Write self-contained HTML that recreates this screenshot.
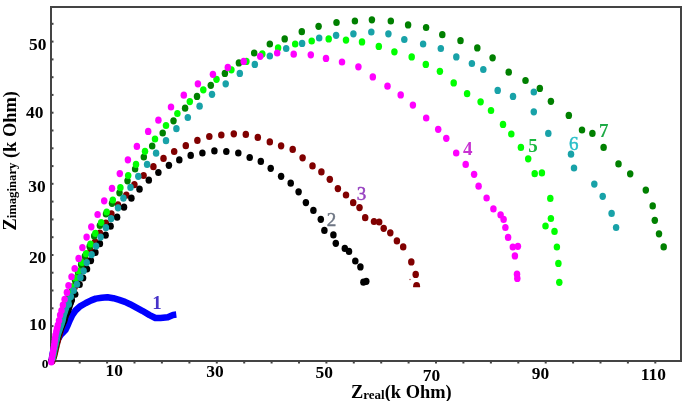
<!DOCTYPE html>
<html><head><meta charset="utf-8"><style>
html,body{margin:0;padding:0;background:#fff;width:685px;height:401px;overflow:hidden}
svg{display:block;filter:blur(0.4px)}
</style></head><body>
<svg width="685" height="401" viewBox="0 0 685 401">
<rect width="685" height="401" fill="#fff"/>
<rect x="50" y="6" width="630" height="354" fill="none" stroke="#444" stroke-width="2" transform="translate(1,1)"/>
<rect x="78.7" y="360" width="2" height="3.5" fill="#444"/><rect x="106.1" y="360" width="2" height="3.5" fill="#444"/><rect x="133.5" y="360" width="2" height="3.5" fill="#444"/><rect x="160.9" y="360" width="2" height="3.5" fill="#444"/><rect x="188.4" y="360" width="2" height="3.5" fill="#444"/><rect x="215.8" y="360" width="2" height="3.5" fill="#444"/><rect x="243.2" y="360" width="2" height="3.5" fill="#444"/><rect x="270.6" y="360" width="2" height="3.5" fill="#444"/><rect x="298.0" y="360" width="2" height="3.5" fill="#444"/><rect x="325.4" y="360" width="2" height="3.5" fill="#444"/><rect x="352.8" y="360" width="2" height="3.5" fill="#444"/><rect x="380.2" y="360" width="2" height="3.5" fill="#444"/><rect x="407.6" y="360" width="2" height="3.5" fill="#444"/><rect x="435.0" y="360" width="2" height="3.5" fill="#444"/><rect x="462.4" y="360" width="2" height="3.5" fill="#444"/><rect x="489.9" y="360" width="2" height="3.5" fill="#444"/><rect x="517.3" y="360" width="2" height="3.5" fill="#444"/><rect x="544.7" y="360" width="2" height="3.5" fill="#444"/><rect x="572.1" y="360" width="2" height="3.5" fill="#444"/><rect x="599.5" y="360" width="2" height="3.5" fill="#444"/><rect x="626.9" y="360" width="2" height="3.5" fill="#444"/><rect x="654.3" y="360" width="2" height="3.5" fill="#444"/><rect x="51" y="22.8" width="2.5" height="2" fill="#444"/><rect x="51" y="40.6" width="2.5" height="2" fill="#444"/><rect x="51" y="58.4" width="2.5" height="2" fill="#444"/><rect x="51" y="76.2" width="2.5" height="2" fill="#444"/><rect x="51" y="93.9" width="2.5" height="2" fill="#444"/><rect x="51" y="111.7" width="2.5" height="2" fill="#444"/><rect x="51" y="129.5" width="2.5" height="2" fill="#444"/><rect x="51" y="147.3" width="2.5" height="2" fill="#444"/><rect x="51" y="165.1" width="2.5" height="2" fill="#444"/><rect x="51" y="182.8" width="2.5" height="2" fill="#444"/><rect x="51" y="200.6" width="2.5" height="2" fill="#444"/><rect x="51" y="218.4" width="2.5" height="2" fill="#444"/><rect x="51" y="236.2" width="2.5" height="2" fill="#444"/><rect x="51" y="254.0" width="2.5" height="2" fill="#444"/><rect x="51" y="271.7" width="2.5" height="2" fill="#444"/><rect x="51" y="289.5" width="2.5" height="2" fill="#444"/><rect x="51" y="307.3" width="2.5" height="2" fill="#444"/><rect x="51" y="325.1" width="2.5" height="2" fill="#444"/><rect x="51" y="342.9" width="2.5" height="2" fill="#444"/>
<polyline points="51.5,362 52.5,354 54.5,347 57.2,340.5 60.6,335 65.4,330 67.8,325 69.9,320 72.3,315 75.5,310.5 80,306.3 85.9,303 91.2,300.4 95.8,298.6 101.7,297.75 107.5,297.2 113.4,298.2 119.2,299.85 125,301.85 130,304.2 135,306.9 142.3,310.8 149.6,315.1 155.4,318 160.5,317.9 167.8,317.2 173,315 176.3,314.6" fill="none" stroke="#0000ff" stroke-width="6.5" stroke-linejoin="round" stroke-linecap="butt"/>
<g><ellipse cx="52.3" cy="361" rx="3.25" ry="3.6" fill="#800000"/><ellipse cx="52.98" cy="359.0" rx="3.25" ry="3.6" fill="#800000"/><ellipse cx="53.67" cy="357.0" rx="3.25" ry="3.6" fill="#800000"/><ellipse cx="54.35" cy="355.0" rx="3.25" ry="3.6" fill="#800000"/><ellipse cx="54.92" cy="352.5" rx="3.25" ry="3.6" fill="#800000"/><ellipse cx="55.5" cy="350.0" rx="3.25" ry="3.6" fill="#800000"/><ellipse cx="56.08" cy="347.5" rx="3.25" ry="3.6" fill="#800000"/><ellipse cx="56.65" cy="345.0" rx="3.25" ry="3.6" fill="#800000"/><ellipse cx="57.3" cy="342.5" rx="3.25" ry="3.6" fill="#800000"/><ellipse cx="57.95" cy="340.0" rx="3.25" ry="3.6" fill="#800000"/><ellipse cx="58.6" cy="337.5" rx="3.25" ry="3.6" fill="#800000"/><ellipse cx="59.25" cy="335.0" rx="3.25" ry="3.6" fill="#800000"/><ellipse cx="60.0" cy="332.33" rx="3.25" ry="3.6" fill="#800000"/><ellipse cx="60.75" cy="329.67" rx="3.25" ry="3.6" fill="#800000"/><ellipse cx="61.5" cy="327.0" rx="3.25" ry="3.6" fill="#800000"/><ellipse cx="62.33" cy="324.67" rx="3.25" ry="3.6" fill="#800000"/><ellipse cx="63.17" cy="322.33" rx="3.25" ry="3.6" fill="#800000"/><ellipse cx="64.0" cy="320.0" rx="3.25" ry="3.6" fill="#800000"/><ellipse cx="64.83" cy="317.33" rx="3.25" ry="3.6" fill="#800000"/><ellipse cx="65.67" cy="314.67" rx="3.25" ry="3.6" fill="#800000"/><ellipse cx="66.5" cy="312.0" rx="3.25" ry="3.6" fill="#800000"/><ellipse cx="67.33" cy="309.33" rx="3.25" ry="3.6" fill="#800000"/><ellipse cx="68.17" cy="306.67" rx="3.25" ry="3.6" fill="#800000"/><ellipse cx="69.0" cy="304.0" rx="3.25" ry="3.6" fill="#800000"/><ellipse cx="69.83" cy="301.33" rx="3.25" ry="3.6" fill="#800000"/><ellipse cx="70.67" cy="298.67" rx="3.25" ry="3.6" fill="#800000"/><ellipse cx="71.5" cy="296.0" rx="3.25" ry="3.6" fill="#800000"/><ellipse cx="72.33" cy="293.67" rx="3.25" ry="3.6" fill="#800000"/><ellipse cx="73.17" cy="291.33" rx="3.25" ry="3.6" fill="#800000"/><ellipse cx="74.0" cy="289.0" rx="3.25" ry="3.6" fill="#800000"/><ellipse cx="74.83" cy="286.5" rx="3.25" ry="3.6" fill="#800000"/><ellipse cx="75.67" cy="284.0" rx="3.25" ry="3.6" fill="#800000"/><ellipse cx="76.5" cy="281.5" rx="3.25" ry="3.6" fill="#800000"/><ellipse cx="77.33" cy="279.0" rx="3.25" ry="3.6" fill="#800000"/><ellipse cx="78.17" cy="276.5" rx="3.25" ry="3.6" fill="#800000"/><ellipse cx="79.0" cy="274.0" rx="3.25" ry="3.6" fill="#800000"/><ellipse cx="82.2" cy="267.3" rx="3.25" ry="3.6" fill="#800000"/><ellipse cx="85.7" cy="259.6" rx="3.25" ry="3.6" fill="#800000"/><ellipse cx="90.6" cy="250.9" rx="3.25" ry="3.6" fill="#800000"/><ellipse cx="95.1" cy="241.9" rx="3.25" ry="3.6" fill="#800000"/><ellipse cx="99.9" cy="233" rx="3.25" ry="3.6" fill="#800000"/><ellipse cx="105.9" cy="223.2" rx="3.25" ry="3.6" fill="#800000"/><ellipse cx="111.4" cy="213.8" rx="3.25" ry="3.6" fill="#800000"/><ellipse cx="118" cy="204.8" rx="3.25" ry="3.6" fill="#800000"/><ellipse cx="126.3" cy="195.2" rx="3.25" ry="3.6" fill="#800000"/><ellipse cx="134.4" cy="184.7" rx="3.25" ry="3.6" fill="#800000"/><ellipse cx="143.6" cy="175.5" rx="3.25" ry="3.6" fill="#800000"/><ellipse cx="153.4" cy="166.7" rx="3.25" ry="3.6" fill="#800000"/><ellipse cx="163.5" cy="158.4" rx="3.25" ry="3.6" fill="#800000"/><ellipse cx="174.2" cy="151.5" rx="3.25" ry="3.6" fill="#800000"/><ellipse cx="185.8" cy="145.7" rx="3.25" ry="3.6" fill="#800000"/><ellipse cx="197.4" cy="140.4" rx="3.25" ry="3.6" fill="#800000"/><ellipse cx="209.3" cy="136.5" rx="3.25" ry="3.6" fill="#800000"/><ellipse cx="221.3" cy="135" rx="3.25" ry="3.6" fill="#800000"/><ellipse cx="233.8" cy="133.8" rx="3.25" ry="3.6" fill="#800000"/><ellipse cx="245.8" cy="134.4" rx="3.25" ry="3.6" fill="#800000"/><ellipse cx="257.8" cy="137.4" rx="3.25" ry="3.6" fill="#800000"/><ellipse cx="269.8" cy="141.9" rx="3.25" ry="3.6" fill="#800000"/><ellipse cx="281.1" cy="145.8" rx="3.25" ry="3.6" fill="#800000"/><ellipse cx="292.7" cy="149.4" rx="3.25" ry="3.6" fill="#800000"/><ellipse cx="302.6" cy="157.8" rx="3.25" ry="3.6" fill="#800000"/><ellipse cx="312.5" cy="165.9" rx="3.25" ry="3.6" fill="#800000"/><ellipse cx="321.4" cy="171.9" rx="3.25" ry="3.6" fill="#800000"/><ellipse cx="329.8" cy="179.3" rx="3.25" ry="3.6" fill="#800000"/><ellipse cx="337.9" cy="188.6" rx="3.25" ry="3.6" fill="#800000"/><ellipse cx="346" cy="195" rx="3.25" ry="3.6" fill="#800000"/><ellipse cx="353.2" cy="202.7" rx="3.25" ry="3.6" fill="#800000"/><ellipse cx="359.5" cy="207.6" rx="3.25" ry="3.6" fill="#800000"/><ellipse cx="365.2" cy="217.7" rx="3.25" ry="3.6" fill="#800000"/><ellipse cx="374" cy="221.5" rx="3.25" ry="3.6" fill="#800000"/><ellipse cx="379.2" cy="222" rx="3.25" ry="3.6" fill="#800000"/><ellipse cx="383.7" cy="228.3" rx="3.25" ry="3.6" fill="#800000"/><ellipse cx="390.3" cy="232.8" rx="3.25" ry="3.6" fill="#800000"/><ellipse cx="396.9" cy="240.9" rx="3.25" ry="3.6" fill="#800000"/><ellipse cx="403.2" cy="246.9" rx="3.25" ry="3.6" fill="#800000"/><ellipse cx="411.3" cy="261.9" rx="3.25" ry="3.6" fill="#800000"/><ellipse cx="415.7" cy="274.4" rx="3.25" ry="3.6" fill="#800000"/></g>
<clipPath id="cm"><rect x="405" y="275" width="20" height="12.2"/></clipPath><ellipse cx="416.6" cy="286.2" rx="3.5" ry="4.3" fill="#800000" clip-path="url(#cm)"/><circle cx="410" cy="279.5" r="0.7" fill="#a03030"/>
<g><ellipse cx="51.5" cy="361" rx="3.25" ry="3.6" fill="#000"/><ellipse cx="52.1" cy="358.67" rx="3.25" ry="3.6" fill="#000"/><ellipse cx="52.7" cy="356.33" rx="3.25" ry="3.6" fill="#000"/><ellipse cx="53.3" cy="354.0" rx="3.25" ry="3.6" fill="#000"/><ellipse cx="53.85" cy="351.75" rx="3.25" ry="3.6" fill="#000"/><ellipse cx="54.4" cy="349.5" rx="3.25" ry="3.6" fill="#000"/><ellipse cx="54.95" cy="347.25" rx="3.25" ry="3.6" fill="#000"/><ellipse cx="55.5" cy="345.0" rx="3.25" ry="3.6" fill="#000"/><ellipse cx="56.17" cy="342.5" rx="3.25" ry="3.6" fill="#000"/><ellipse cx="56.85" cy="340.0" rx="3.25" ry="3.6" fill="#000"/><ellipse cx="57.53" cy="337.5" rx="3.25" ry="3.6" fill="#000"/><ellipse cx="58.2" cy="335.0" rx="3.25" ry="3.6" fill="#000"/><ellipse cx="59.2" cy="332.5" rx="3.25" ry="3.6" fill="#000"/><ellipse cx="60.2" cy="330.0" rx="3.25" ry="3.6" fill="#000"/><ellipse cx="61.2" cy="327.5" rx="3.25" ry="3.6" fill="#000"/><ellipse cx="62.2" cy="325.0" rx="3.25" ry="3.6" fill="#000"/><ellipse cx="63.23" cy="322.75" rx="3.25" ry="3.6" fill="#000"/><ellipse cx="64.25" cy="320.5" rx="3.25" ry="3.6" fill="#000"/><ellipse cx="65.05" cy="317.75" rx="3.25" ry="3.6" fill="#000"/><ellipse cx="65.85" cy="315.0" rx="3.25" ry="3.6" fill="#000"/><ellipse cx="67.0" cy="312.75" rx="3.25" ry="3.6" fill="#000"/><ellipse cx="68.15" cy="310.5" rx="3.25" ry="3.6" fill="#000"/><ellipse cx="69.0" cy="307.75" rx="3.25" ry="3.6" fill="#000"/><ellipse cx="69.85" cy="305.0" rx="3.25" ry="3.6" fill="#000"/><ellipse cx="70.82" cy="302.5" rx="3.25" ry="3.6" fill="#000"/><ellipse cx="71.8" cy="300.0" rx="3.25" ry="3.6" fill="#000"/><ellipse cx="75.2" cy="294.25" rx="3.25" ry="3.6" fill="#000"/><ellipse cx="79.6" cy="284.5" rx="3.25" ry="3.6" fill="#000"/><ellipse cx="83.1" cy="278" rx="3.25" ry="3.6" fill="#000"/><ellipse cx="87" cy="269" rx="3.25" ry="3.6" fill="#000"/><ellipse cx="90.9" cy="260.6" rx="3.25" ry="3.6" fill="#000"/><ellipse cx="95.4" cy="252.4" rx="3.25" ry="3.6" fill="#000"/><ellipse cx="99.9" cy="243.7" rx="3.25" ry="3.6" fill="#000"/><ellipse cx="105.6" cy="235.2" rx="3.25" ry="3.6" fill="#000"/><ellipse cx="110.6" cy="226.2" rx="3.25" ry="3.6" fill="#000"/><ellipse cx="117.1" cy="217.2" rx="3.25" ry="3.6" fill="#000"/><ellipse cx="124" cy="207.2" rx="3.25" ry="3.6" fill="#000"/><ellipse cx="131.4" cy="198.2" rx="3.25" ry="3.6" fill="#000"/><ellipse cx="139.5" cy="189.2" rx="3.25" ry="3.6" fill="#000"/><ellipse cx="148.8" cy="180.2" rx="3.25" ry="3.6" fill="#000"/><ellipse cx="158.4" cy="172.5" rx="3.25" ry="3.6" fill="#000"/><ellipse cx="168.9" cy="165.3" rx="3.25" ry="3.6" fill="#000"/><ellipse cx="179.3" cy="159.9" rx="3.25" ry="3.6" fill="#000"/><ellipse cx="190.7" cy="155.4" rx="3.25" ry="3.6" fill="#000"/><ellipse cx="202.4" cy="153" rx="3.25" ry="3.6" fill="#000"/><ellipse cx="214.4" cy="150.9" rx="3.25" ry="3.6" fill="#000"/><ellipse cx="226.3" cy="151.5" rx="3.25" ry="3.6" fill="#000"/><ellipse cx="238.3" cy="153" rx="3.25" ry="3.6" fill="#000"/><ellipse cx="249.7" cy="157.5" rx="3.25" ry="3.6" fill="#000"/><ellipse cx="260.8" cy="161.4" rx="3.25" ry="3.6" fill="#000"/><ellipse cx="270.7" cy="168.3" rx="3.25" ry="3.6" fill="#000"/><ellipse cx="281.1" cy="176.3" rx="3.25" ry="3.6" fill="#000"/><ellipse cx="290.7" cy="183.2" rx="3.25" ry="3.6" fill="#000"/><ellipse cx="298.6" cy="191.8" rx="3.25" ry="3.6" fill="#000"/><ellipse cx="305.9" cy="202.6" rx="3.25" ry="3.6" fill="#000"/><ellipse cx="313.4" cy="210.4" rx="3.25" ry="3.6" fill="#000"/><ellipse cx="320.8" cy="219.3" rx="3.25" ry="3.6" fill="#000"/><ellipse cx="324.4" cy="230.4" rx="3.25" ry="3.6" fill="#000"/><ellipse cx="333.4" cy="234.9" rx="3.25" ry="3.6" fill="#000"/><ellipse cx="335.8" cy="243.3" rx="3.25" ry="3.6" fill="#000"/><ellipse cx="344.8" cy="248.4" rx="3.25" ry="3.6" fill="#000"/><ellipse cx="349" cy="251.4" rx="3.25" ry="3.6" fill="#000"/><ellipse cx="355.3" cy="261" rx="3.25" ry="3.6" fill="#000"/><ellipse cx="360.4" cy="266.9" rx="3.25" ry="3.6" fill="#000"/><ellipse cx="363.4" cy="282.2" rx="3.25" ry="3.6" fill="#000"/><ellipse cx="366.3" cy="281.3" rx="3.25" ry="3.6" fill="#000"/></g>
<g><ellipse cx="53" cy="358" rx="3.25" ry="3.6" fill="#008000"/><ellipse cx="53.5" cy="355.33" rx="3.25" ry="3.6" fill="#008000"/><ellipse cx="54.0" cy="352.67" rx="3.25" ry="3.6" fill="#008000"/><ellipse cx="54.5" cy="350.0" rx="3.25" ry="3.6" fill="#008000"/><ellipse cx="55.0" cy="347.5" rx="3.25" ry="3.6" fill="#008000"/><ellipse cx="55.5" cy="345.0" rx="3.25" ry="3.6" fill="#008000"/><ellipse cx="56.0" cy="342.5" rx="3.25" ry="3.6" fill="#008000"/><ellipse cx="56.5" cy="340.0" rx="3.25" ry="3.6" fill="#008000"/><ellipse cx="57.12" cy="337.5" rx="3.25" ry="3.6" fill="#008000"/><ellipse cx="57.75" cy="335.0" rx="3.25" ry="3.6" fill="#008000"/><ellipse cx="58.38" cy="332.5" rx="3.25" ry="3.6" fill="#008000"/><ellipse cx="59.0" cy="330.0" rx="3.25" ry="3.6" fill="#008000"/><ellipse cx="59.62" cy="327.5" rx="3.25" ry="3.6" fill="#008000"/><ellipse cx="60.25" cy="325.0" rx="3.25" ry="3.6" fill="#008000"/><ellipse cx="60.88" cy="322.5" rx="3.25" ry="3.6" fill="#008000"/><ellipse cx="61.5" cy="320.0" rx="3.25" ry="3.6" fill="#008000"/><ellipse cx="62.33" cy="317.33" rx="3.25" ry="3.6" fill="#008000"/><ellipse cx="63.17" cy="314.67" rx="3.25" ry="3.6" fill="#008000"/><ellipse cx="64.0" cy="312.0" rx="3.25" ry="3.6" fill="#008000"/><ellipse cx="66.5" cy="304" rx="3.25" ry="3.6" fill="#008000"/><ellipse cx="69" cy="296" rx="3.25" ry="3.6" fill="#008000"/><ellipse cx="72" cy="288" rx="3.25" ry="3.6" fill="#008000"/><ellipse cx="75" cy="280" rx="3.25" ry="3.6" fill="#008000"/><ellipse cx="78" cy="272" rx="3.25" ry="3.6" fill="#008000"/><ellipse cx="81.2" cy="264.4" rx="3.25" ry="3.6" fill="#008000"/><ellipse cx="84.9" cy="256.1" rx="3.25" ry="3.6" fill="#008000"/><ellipse cx="89.7" cy="246.4" rx="3.25" ry="3.6" fill="#008000"/><ellipse cx="94.2" cy="235.9" rx="3.25" ry="3.6" fill="#008000"/><ellipse cx="99.9" cy="225.5" rx="3.25" ry="3.6" fill="#008000"/><ellipse cx="106" cy="214" rx="3.25" ry="3.6" fill="#008000"/><ellipse cx="112" cy="203.3" rx="3.25" ry="3.6" fill="#008000"/><ellipse cx="119.5" cy="192.8" rx="3.25" ry="3.6" fill="#008000"/><ellipse cx="127.5" cy="180.8" rx="3.25" ry="3.6" fill="#008000"/><ellipse cx="135.1" cy="169" rx="3.25" ry="3.6" fill="#008000"/><ellipse cx="143.8" cy="157" rx="3.25" ry="3.6" fill="#008000"/><ellipse cx="152.2" cy="146" rx="3.25" ry="3.6" fill="#008000"/><ellipse cx="162.7" cy="133" rx="3.25" ry="3.6" fill="#008000"/><ellipse cx="173.5" cy="120.8" rx="3.25" ry="3.6" fill="#008000"/><ellipse cx="185.1" cy="108.2" rx="3.25" ry="3.6" fill="#008000"/><ellipse cx="197" cy="96.4" rx="3.25" ry="3.6" fill="#008000"/><ellipse cx="210.8" cy="85.3" rx="3.25" ry="3.6" fill="#008000"/><ellipse cx="224.9" cy="73.4" rx="3.25" ry="3.6" fill="#008000"/><ellipse cx="238.9" cy="62.9" rx="3.25" ry="3.6" fill="#008000"/><ellipse cx="254.2" cy="53" rx="3.25" ry="3.6" fill="#008000"/><ellipse cx="269.8" cy="44" rx="3.25" ry="3.6" fill="#008000"/><ellipse cx="284.7" cy="38.9" rx="3.25" ry="3.6" fill="#008000"/><ellipse cx="301.8" cy="31.7" rx="3.25" ry="3.6" fill="#008000"/><ellipse cx="318.6" cy="26.3" rx="3.25" ry="3.6" fill="#008000"/><ellipse cx="336.5" cy="22.5" rx="3.25" ry="3.6" fill="#008000"/><ellipse cx="354.9" cy="21" rx="3.25" ry="3.6" fill="#008000"/><ellipse cx="371.9" cy="19.8" rx="3.25" ry="3.6" fill="#008000"/><ellipse cx="390.8" cy="21" rx="3.25" ry="3.6" fill="#008000"/><ellipse cx="408.1" cy="24.9" rx="3.25" ry="3.6" fill="#008000"/><ellipse cx="426.1" cy="27.5" rx="3.25" ry="3.6" fill="#008000"/><ellipse cx="442.3" cy="34.7" rx="3.25" ry="3.6" fill="#008000"/><ellipse cx="460.5" cy="40.7" rx="3.25" ry="3.6" fill="#008000"/><ellipse cx="477.3" cy="47.9" rx="3.25" ry="3.6" fill="#008000"/><ellipse cx="492.6" cy="57.8" rx="3.25" ry="3.6" fill="#008000"/><ellipse cx="508.7" cy="72.2" rx="3.25" ry="3.6" fill="#008000"/><ellipse cx="525.5" cy="80.5" rx="3.25" ry="3.6" fill="#008000"/><ellipse cx="539.8" cy="88.4" rx="3.25" ry="3.6" fill="#008000"/><ellipse cx="550.9" cy="101.3" rx="3.25" ry="3.6" fill="#008000"/><ellipse cx="568.8" cy="115.4" rx="3.25" ry="3.6" fill="#008000"/><ellipse cx="582" cy="130" rx="3.25" ry="3.6" fill="#008000"/><ellipse cx="592.4" cy="133.4" rx="3.25" ry="3.6" fill="#008000"/><ellipse cx="603.6" cy="147.4" rx="3.25" ry="3.6" fill="#008000"/><ellipse cx="618.5" cy="163.9" rx="3.25" ry="3.6" fill="#008000"/><ellipse cx="630.2" cy="173.8" rx="3.25" ry="3.6" fill="#008000"/><ellipse cx="645.8" cy="190.1" rx="3.25" ry="3.6" fill="#008000"/><ellipse cx="652.7" cy="205.9" rx="3.25" ry="3.6" fill="#008000"/><ellipse cx="654.8" cy="220.3" rx="3.25" ry="3.6" fill="#008000"/><ellipse cx="659" cy="233.8" rx="3.25" ry="3.6" fill="#008000"/><ellipse cx="663.7" cy="246.9" rx="3.25" ry="3.6" fill="#008000"/></g>
<g><ellipse cx="52.5" cy="358" rx="3.25" ry="3.6" fill="#00ff00"/><ellipse cx="53.0" cy="355.33" rx="3.25" ry="3.6" fill="#00ff00"/><ellipse cx="53.5" cy="352.67" rx="3.25" ry="3.6" fill="#00ff00"/><ellipse cx="54.0" cy="350.0" rx="3.25" ry="3.6" fill="#00ff00"/><ellipse cx="54.5" cy="347.5" rx="3.25" ry="3.6" fill="#00ff00"/><ellipse cx="55.0" cy="345.0" rx="3.25" ry="3.6" fill="#00ff00"/><ellipse cx="55.5" cy="342.5" rx="3.25" ry="3.6" fill="#00ff00"/><ellipse cx="56.0" cy="340.0" rx="3.25" ry="3.6" fill="#00ff00"/><ellipse cx="56.62" cy="337.5" rx="3.25" ry="3.6" fill="#00ff00"/><ellipse cx="57.25" cy="335.0" rx="3.25" ry="3.6" fill="#00ff00"/><ellipse cx="57.88" cy="332.5" rx="3.25" ry="3.6" fill="#00ff00"/><ellipse cx="58.5" cy="330.0" rx="3.25" ry="3.6" fill="#00ff00"/><ellipse cx="59.12" cy="327.5" rx="3.25" ry="3.6" fill="#00ff00"/><ellipse cx="59.75" cy="325.0" rx="3.25" ry="3.6" fill="#00ff00"/><ellipse cx="60.38" cy="322.5" rx="3.25" ry="3.6" fill="#00ff00"/><ellipse cx="61.0" cy="320.0" rx="3.25" ry="3.6" fill="#00ff00"/><ellipse cx="61.62" cy="317.5" rx="3.25" ry="3.6" fill="#00ff00"/><ellipse cx="62.25" cy="315.0" rx="3.25" ry="3.6" fill="#00ff00"/><ellipse cx="62.88" cy="312.5" rx="3.25" ry="3.6" fill="#00ff00"/><ellipse cx="63.5" cy="310.0" rx="3.25" ry="3.6" fill="#00ff00"/><ellipse cx="64.15" cy="307.5" rx="3.25" ry="3.6" fill="#00ff00"/><ellipse cx="64.8" cy="305.0" rx="3.25" ry="3.6" fill="#00ff00"/><ellipse cx="66.5" cy="301.75" rx="3.25" ry="3.6" fill="#00ff00"/><ellipse cx="69.4" cy="293.6" rx="3.25" ry="3.6" fill="#00ff00"/><ellipse cx="71.9" cy="286.75" rx="3.25" ry="3.6" fill="#00ff00"/><ellipse cx="75.6" cy="278" rx="3.25" ry="3.6" fill="#00ff00"/><ellipse cx="78.5" cy="271" rx="3.25" ry="3.6" fill="#00ff00"/><ellipse cx="82" cy="262.5" rx="3.25" ry="3.6" fill="#00ff00"/><ellipse cx="86.1" cy="253.7" rx="3.25" ry="3.6" fill="#00ff00"/><ellipse cx="90.5" cy="244" rx="3.25" ry="3.6" fill="#00ff00"/><ellipse cx="95.4" cy="233.4" rx="3.25" ry="3.6" fill="#00ff00"/><ellipse cx="101.2" cy="222.5" rx="3.25" ry="3.6" fill="#00ff00"/><ellipse cx="106.7" cy="212" rx="3.25" ry="3.6" fill="#00ff00"/><ellipse cx="112.8" cy="200" rx="3.25" ry="3.6" fill="#00ff00"/><ellipse cx="120.4" cy="187.7" rx="3.25" ry="3.6" fill="#00ff00"/><ellipse cx="128.2" cy="175.5" rx="3.25" ry="3.6" fill="#00ff00"/><ellipse cx="136" cy="164.4" rx="3.25" ry="3.6" fill="#00ff00"/><ellipse cx="145" cy="151.3" rx="3.25" ry="3.6" fill="#00ff00"/><ellipse cx="155" cy="139" rx="3.25" ry="3.6" fill="#00ff00"/><ellipse cx="166" cy="125.5" rx="3.25" ry="3.6" fill="#00ff00"/><ellipse cx="177.4" cy="113.5" rx="3.25" ry="3.6" fill="#00ff00"/><ellipse cx="189.8" cy="101.6" rx="3.25" ry="3.6" fill="#00ff00"/><ellipse cx="203.3" cy="89.8" rx="3.25" ry="3.6" fill="#00ff00"/><ellipse cx="216.5" cy="79.3" rx="3.25" ry="3.6" fill="#00ff00"/><ellipse cx="231.4" cy="69.8" rx="3.25" ry="3.6" fill="#00ff00"/><ellipse cx="246.4" cy="61.4" rx="3.25" ry="3.6" fill="#00ff00"/><ellipse cx="262.3" cy="53.9" rx="3.25" ry="3.6" fill="#00ff00"/><ellipse cx="278.1" cy="47.9" rx="3.25" ry="3.6" fill="#00ff00"/><ellipse cx="295.2" cy="44" rx="3.25" ry="3.6" fill="#00ff00"/><ellipse cx="311.7" cy="41" rx="3.25" ry="3.6" fill="#00ff00"/><ellipse cx="328.7" cy="38.9" rx="3.25" ry="3.6" fill="#00ff00"/><ellipse cx="346" cy="40.1" rx="3.25" ry="3.6" fill="#00ff00"/><ellipse cx="362" cy="41.9" rx="3.25" ry="3.6" fill="#00ff00"/><ellipse cx="378.8" cy="46.4" rx="3.25" ry="3.6" fill="#00ff00"/><ellipse cx="394.4" cy="51.8" rx="3.25" ry="3.6" fill="#00ff00"/><ellipse cx="411.7" cy="56.9" rx="3.25" ry="3.6" fill="#00ff00"/><ellipse cx="425.8" cy="64.4" rx="3.25" ry="3.6" fill="#00ff00"/><ellipse cx="439.9" cy="71.3" rx="3.25" ry="3.6" fill="#00ff00"/><ellipse cx="453.7" cy="82.9" rx="3.25" ry="3.6" fill="#00ff00"/><ellipse cx="467.1" cy="93.7" rx="3.25" ry="3.6" fill="#00ff00"/><ellipse cx="480.6" cy="101.8" rx="3.25" ry="3.6" fill="#00ff00"/><ellipse cx="491" cy="110.5" rx="3.25" ry="3.6" fill="#00ff00"/><ellipse cx="503" cy="124.4" rx="3.25" ry="3.6" fill="#00ff00"/><ellipse cx="511.3" cy="134" rx="3.25" ry="3.6" fill="#00ff00"/><ellipse cx="520.9" cy="147.4" rx="3.25" ry="3.6" fill="#00ff00"/><ellipse cx="528.2" cy="158.8" rx="3.25" ry="3.6" fill="#00ff00"/><ellipse cx="534.7" cy="173.7" rx="3.25" ry="3.6" fill="#00ff00"/><ellipse cx="541.9" cy="172.9" rx="3.25" ry="3.6" fill="#00ff00"/><ellipse cx="550.3" cy="198.4" rx="3.25" ry="3.6" fill="#00ff00"/><ellipse cx="550.9" cy="218.5" rx="3.25" ry="3.6" fill="#00ff00"/><ellipse cx="545.5" cy="226" rx="3.25" ry="3.6" fill="#00ff00"/><ellipse cx="554.5" cy="231.4" rx="3.25" ry="3.6" fill="#00ff00"/><ellipse cx="556.9" cy="247" rx="3.25" ry="3.6" fill="#00ff00"/><ellipse cx="558.4" cy="263.4" rx="3.25" ry="3.6" fill="#00ff00"/><ellipse cx="559.3" cy="282.3" rx="3.25" ry="3.6" fill="#00ff00"/></g>
<g><ellipse cx="52.5" cy="358" rx="3.25" ry="3.6" fill="#18a2a8"/><ellipse cx="53.0" cy="355.5" rx="3.25" ry="3.6" fill="#18a2a8"/><ellipse cx="53.5" cy="353.0" rx="3.25" ry="3.6" fill="#18a2a8"/><ellipse cx="54.0" cy="350.5" rx="3.25" ry="3.6" fill="#18a2a8"/><ellipse cx="54.5" cy="348.0" rx="3.25" ry="3.6" fill="#18a2a8"/><ellipse cx="55.11" cy="345.4" rx="3.25" ry="3.6" fill="#18a2a8"/><ellipse cx="55.72" cy="342.8" rx="3.25" ry="3.6" fill="#18a2a8"/><ellipse cx="56.33" cy="340.2" rx="3.25" ry="3.6" fill="#18a2a8"/><ellipse cx="56.94" cy="337.6" rx="3.25" ry="3.6" fill="#18a2a8"/><ellipse cx="57.55" cy="335.0" rx="3.25" ry="3.6" fill="#18a2a8"/><ellipse cx="58.42" cy="332.5" rx="3.25" ry="3.6" fill="#18a2a8"/><ellipse cx="59.3" cy="330.0" rx="3.25" ry="3.6" fill="#18a2a8"/><ellipse cx="60.17" cy="327.5" rx="3.25" ry="3.6" fill="#18a2a8"/><ellipse cx="61.05" cy="325.0" rx="3.25" ry="3.6" fill="#18a2a8"/><ellipse cx="61.8" cy="322.75" rx="3.25" ry="3.6" fill="#18a2a8"/><ellipse cx="62.55" cy="320.5" rx="3.25" ry="3.6" fill="#18a2a8"/><ellipse cx="63.1" cy="317.75" rx="3.25" ry="3.6" fill="#18a2a8"/><ellipse cx="63.65" cy="315.0" rx="3.25" ry="3.6" fill="#18a2a8"/><ellipse cx="64.4" cy="312.75" rx="3.25" ry="3.6" fill="#18a2a8"/><ellipse cx="65.15" cy="310.5" rx="3.25" ry="3.6" fill="#18a2a8"/><ellipse cx="66.05" cy="307.75" rx="3.25" ry="3.6" fill="#18a2a8"/><ellipse cx="66.95" cy="305.0" rx="3.25" ry="3.6" fill="#18a2a8"/><ellipse cx="67.62" cy="302.75" rx="3.25" ry="3.6" fill="#18a2a8"/><ellipse cx="68.3" cy="300.5" rx="3.25" ry="3.6" fill="#18a2a8"/><ellipse cx="68.75" cy="304.25" rx="3.25" ry="3.6" fill="#18a2a8"/><ellipse cx="70.8" cy="296.6" rx="3.25" ry="3.6" fill="#18a2a8"/><ellipse cx="73.7" cy="290.5" rx="3.25" ry="3.6" fill="#18a2a8"/><ellipse cx="77" cy="284.25" rx="3.25" ry="3.6" fill="#18a2a8"/><ellipse cx="80.4" cy="277.4" rx="3.25" ry="3.6" fill="#18a2a8"/><ellipse cx="83.6" cy="270.8" rx="3.25" ry="3.6" fill="#18a2a8"/><ellipse cx="86.7" cy="262.6" rx="3.25" ry="3.6" fill="#18a2a8"/><ellipse cx="91.6" cy="254.6" rx="3.25" ry="3.6" fill="#18a2a8"/><ellipse cx="96.1" cy="246.1" rx="3.25" ry="3.6" fill="#18a2a8"/><ellipse cx="100.6" cy="237.1" rx="3.25" ry="3.6" fill="#18a2a8"/><ellipse cx="105.9" cy="227.7" rx="3.25" ry="3.6" fill="#18a2a8"/><ellipse cx="111.1" cy="218.7" rx="3.25" ry="3.6" fill="#18a2a8"/><ellipse cx="118" cy="207.8" rx="3.25" ry="3.6" fill="#18a2a8"/><ellipse cx="123.4" cy="198.2" rx="3.25" ry="3.6" fill="#18a2a8"/><ellipse cx="130.5" cy="187.4" rx="3.25" ry="3.6" fill="#18a2a8"/><ellipse cx="138.3" cy="176.3" rx="3.25" ry="3.6" fill="#18a2a8"/><ellipse cx="147.1" cy="164.4" rx="3.25" ry="3.6" fill="#18a2a8"/><ellipse cx="156.1" cy="153.2" rx="3.25" ry="3.6" fill="#18a2a8"/><ellipse cx="166" cy="140.7" rx="3.25" ry="3.6" fill="#18a2a8"/><ellipse cx="176.4" cy="128.7" rx="3.25" ry="3.6" fill="#18a2a8"/><ellipse cx="187.8" cy="117.5" rx="3.25" ry="3.6" fill="#18a2a8"/><ellipse cx="199.6" cy="106.2" rx="3.25" ry="3.6" fill="#18a2a8"/><ellipse cx="212" cy="94.3" rx="3.25" ry="3.6" fill="#18a2a8"/><ellipse cx="225.7" cy="83.8" rx="3.25" ry="3.6" fill="#18a2a8"/><ellipse cx="239.8" cy="73.4" rx="3.25" ry="3.6" fill="#18a2a8"/><ellipse cx="254.8" cy="64.4" rx="3.25" ry="3.6" fill="#18a2a8"/><ellipse cx="269.8" cy="56" rx="3.25" ry="3.6" fill="#18a2a8"/><ellipse cx="286.2" cy="48.5" rx="3.25" ry="3.6" fill="#18a2a8"/><ellipse cx="302.1" cy="43.4" rx="3.25" ry="3.6" fill="#18a2a8"/><ellipse cx="319.2" cy="38" rx="3.25" ry="3.6" fill="#18a2a8"/><ellipse cx="336.1" cy="35.3" rx="3.25" ry="3.6" fill="#18a2a8"/><ellipse cx="353.4" cy="33.8" rx="3.25" ry="3.6" fill="#18a2a8"/><ellipse cx="371.3" cy="32" rx="3.25" ry="3.6" fill="#18a2a8"/><ellipse cx="388.4" cy="33.8" rx="3.25" ry="3.6" fill="#18a2a8"/><ellipse cx="404.3" cy="39.5" rx="3.25" ry="3.6" fill="#18a2a8"/><ellipse cx="423.1" cy="44" rx="3.25" ry="3.6" fill="#18a2a8"/><ellipse cx="440.8" cy="48.5" rx="3.25" ry="3.6" fill="#18a2a8"/><ellipse cx="456.3" cy="56.9" rx="3.25" ry="3.6" fill="#18a2a8"/><ellipse cx="471.9" cy="63.5" rx="3.25" ry="3.6" fill="#18a2a8"/><ellipse cx="483.3" cy="69.5" rx="3.25" ry="3.6" fill="#18a2a8"/><ellipse cx="497.7" cy="90.4" rx="3.25" ry="3.6" fill="#18a2a8"/><ellipse cx="513" cy="96.4" rx="3.25" ry="3.6" fill="#18a2a8"/><ellipse cx="533.8" cy="92" rx="3.25" ry="3.6" fill="#18a2a8"/><ellipse cx="533.8" cy="111.8" rx="3.25" ry="3.6" fill="#18a2a8"/><ellipse cx="548.3" cy="133.4" rx="3.25" ry="3.6" fill="#18a2a8"/><ellipse cx="571" cy="154.2" rx="3.25" ry="3.6" fill="#18a2a8"/><ellipse cx="574" cy="168" rx="3.25" ry="3.6" fill="#18a2a8"/><ellipse cx="594.3" cy="184.1" rx="3.25" ry="3.6" fill="#18a2a8"/><ellipse cx="602.7" cy="196.3" rx="3.25" ry="3.6" fill="#18a2a8"/><ellipse cx="611.6" cy="213.4" rx="3.25" ry="3.6" fill="#18a2a8"/><ellipse cx="616.1" cy="227.5" rx="3.25" ry="3.6" fill="#18a2a8"/></g>
<g><ellipse cx="51.3" cy="362" rx="3.25" ry="3.6" fill="#ff00ff"/><ellipse cx="51.9" cy="358.5" rx="3.25" ry="3.6" fill="#ff00ff"/><ellipse cx="52.5" cy="355.0" rx="3.25" ry="3.6" fill="#ff00ff"/><ellipse cx="53.07" cy="351.67" rx="3.25" ry="3.6" fill="#ff00ff"/><ellipse cx="53.63" cy="348.33" rx="3.25" ry="3.6" fill="#ff00ff"/><ellipse cx="54.2" cy="345.0" rx="3.25" ry="3.6" fill="#ff00ff"/><ellipse cx="54.63" cy="341.67" rx="3.25" ry="3.6" fill="#ff00ff"/><ellipse cx="55.07" cy="338.33" rx="3.25" ry="3.6" fill="#ff00ff"/><ellipse cx="55.5" cy="335.0" rx="3.25" ry="3.6" fill="#ff00ff"/><ellipse cx="56.28" cy="331.67" rx="3.25" ry="3.6" fill="#ff00ff"/><ellipse cx="57.07" cy="328.33" rx="3.25" ry="3.6" fill="#ff00ff"/><ellipse cx="57.85" cy="325.0" rx="3.25" ry="3.6" fill="#ff00ff"/><ellipse cx="59.0" cy="320.5" rx="3.25" ry="3.6" fill="#ff00ff"/><ellipse cx="60.1" cy="315.0" rx="3.25" ry="3.6" fill="#ff00ff"/><ellipse cx="61.5" cy="310.5" rx="3.25" ry="3.6" fill="#ff00ff"/><ellipse cx="62.9" cy="305.0" rx="3.25" ry="3.6" fill="#ff00ff"/><ellipse cx="64.6" cy="299.25" rx="3.25" ry="3.6" fill="#ff00ff"/><ellipse cx="66.9" cy="292.4" rx="3.25" ry="3.6" fill="#ff00ff"/><ellipse cx="68.5" cy="285.5" rx="3.25" ry="3.6" fill="#ff00ff"/><ellipse cx="71.5" cy="276.75" rx="3.25" ry="3.6" fill="#ff00ff"/><ellipse cx="74.7" cy="268.5" rx="3.25" ry="3.6" fill="#ff00ff"/><ellipse cx="78.6" cy="258.4" rx="3.25" ry="3.6" fill="#ff00ff"/><ellipse cx="82.4" cy="247.6" rx="3.25" ry="3.6" fill="#ff00ff"/><ellipse cx="86.6" cy="237.1" rx="3.25" ry="3.6" fill="#ff00ff"/><ellipse cx="91.3" cy="226.8" rx="3.25" ry="3.6" fill="#ff00ff"/><ellipse cx="97.6" cy="214.5" rx="3.25" ry="3.6" fill="#ff00ff"/><ellipse cx="104.2" cy="200.8" rx="3.25" ry="3.6" fill="#ff00ff"/><ellipse cx="112" cy="188.3" rx="3.25" ry="3.6" fill="#ff00ff"/><ellipse cx="119.8" cy="173.6" rx="3.25" ry="3.6" fill="#ff00ff"/><ellipse cx="127.9" cy="159.8" rx="3.25" ry="3.6" fill="#ff00ff"/><ellipse cx="136.9" cy="146.4" rx="3.25" ry="3.6" fill="#ff00ff"/><ellipse cx="148.2" cy="131.4" rx="3.25" ry="3.6" fill="#ff00ff"/><ellipse cx="158.4" cy="120.2" rx="3.25" ry="3.6" fill="#ff00ff"/><ellipse cx="171" cy="107" rx="3.25" ry="3.6" fill="#ff00ff"/><ellipse cx="183.8" cy="95.2" rx="3.25" ry="3.6" fill="#ff00ff"/><ellipse cx="197.9" cy="83.8" rx="3.25" ry="3.6" fill="#ff00ff"/><ellipse cx="212.9" cy="74.3" rx="3.25" ry="3.6" fill="#ff00ff"/><ellipse cx="227.8" cy="67.4" rx="3.25" ry="3.6" fill="#ff00ff"/><ellipse cx="243.7" cy="61.4" rx="3.25" ry="3.6" fill="#ff00ff"/><ellipse cx="260.2" cy="56.3" rx="3.25" ry="3.6" fill="#ff00ff"/><ellipse cx="277.2" cy="53" rx="3.25" ry="3.6" fill="#ff00ff"/><ellipse cx="293.7" cy="54.2" rx="3.25" ry="3.6" fill="#ff00ff"/><ellipse cx="310.8" cy="54.8" rx="3.25" ry="3.6" fill="#ff00ff"/><ellipse cx="326" cy="58.4" rx="3.25" ry="3.6" fill="#ff00ff"/><ellipse cx="342" cy="62" rx="3.25" ry="3.6" fill="#ff00ff"/><ellipse cx="358.4" cy="66.8" rx="3.25" ry="3.6" fill="#ff00ff"/><ellipse cx="372.8" cy="76.9" rx="3.25" ry="3.6" fill="#ff00ff"/><ellipse cx="387.5" cy="86.2" rx="3.25" ry="3.6" fill="#ff00ff"/><ellipse cx="400.7" cy="94.9" rx="3.25" ry="3.6" fill="#ff00ff"/><ellipse cx="412.9" cy="105.1" rx="3.25" ry="3.6" fill="#ff00ff"/><ellipse cx="426.2" cy="118" rx="3.25" ry="3.6" fill="#ff00ff"/><ellipse cx="438.2" cy="129.3" rx="3.25" ry="3.6" fill="#ff00ff"/><ellipse cx="446.3" cy="138.3" rx="3.25" ry="3.6" fill="#ff00ff"/><ellipse cx="456.2" cy="153" rx="3.25" ry="3.6" fill="#ff00ff"/><ellipse cx="465.7" cy="164.4" rx="3.25" ry="3.6" fill="#ff00ff"/><ellipse cx="474.1" cy="174.3" rx="3.25" ry="3.6" fill="#ff00ff"/><ellipse cx="478.6" cy="186.2" rx="3.25" ry="3.6" fill="#ff00ff"/><ellipse cx="486.6" cy="198" rx="3.25" ry="3.6" fill="#ff00ff"/><ellipse cx="493.4" cy="208.9" rx="3.25" ry="3.6" fill="#ff00ff"/><ellipse cx="500.6" cy="214.9" rx="3.25" ry="3.6" fill="#ff00ff"/><ellipse cx="503.6" cy="219.4" rx="3.25" ry="3.6" fill="#ff00ff"/><ellipse cx="505.4" cy="227.5" rx="3.25" ry="3.6" fill="#ff00ff"/><ellipse cx="508.1" cy="237.4" rx="3.25" ry="3.6" fill="#ff00ff"/><ellipse cx="512.8" cy="247" rx="3.25" ry="3.6" fill="#ff00ff"/><ellipse cx="517.9" cy="246.3" rx="3.25" ry="3.6" fill="#ff00ff"/><ellipse cx="514.9" cy="255.9" rx="3.25" ry="3.6" fill="#ff00ff"/><ellipse cx="517" cy="274.2" rx="3.25" ry="3.6" fill="#ff00ff"/><ellipse cx="517.3" cy="278.4" rx="3.25" ry="3.6" fill="#ff00ff"/></g>
<g font-family='"Liberation Serif", serif' font-weight="bold" font-size="17.4" fill="#000">
<text x="114.3" y="375.8" text-anchor="middle">10</text>
<text x="214.9" y="376.6" text-anchor="middle">30</text>
<text x="324.3" y="377.9" text-anchor="middle">50</text>
<text x="431.4" y="381.4" text-anchor="middle">70</text>
<text x="540.5" y="378.8" text-anchor="middle">90</text>
<text x="653.3" y="379.5" text-anchor="middle">110</text>
<text x="46.4" y="49.6" text-anchor="end">50</text>
<text x="43.4" y="117.7" text-anchor="end">40</text>
<text x="45.6" y="191.9" text-anchor="end">30</text>
<text x="46.3" y="263" text-anchor="end">20</text>
<text x="46.4" y="329.9" text-anchor="end">10</text>
<text x="48.6" y="368" text-anchor="end" font-size="13.5">0</text>
</g>
<g font-family='"Liberation Serif", serif' font-weight="bold" font-size="19" text-anchor="middle">
<text x="157" y="309" fill="#4632c8">1</text>
<text x="331.4" y="225.5" fill="#6e7684" stroke="#6e7684" stroke-width="0.45" font-weight="normal">2</text>
<text x="361.4" y="199.5" fill="#9640c0" stroke="#9640c0" stroke-width="0.45" font-weight="normal">3</text>
<text x="467.85" y="154.5" fill="#c832d2">4</text>
<text x="533.1" y="151.5" fill="#19b83f">5</text>
<text x="573.75" y="149.5" fill="#28bec8" stroke="#28bec8" stroke-width="0.45" font-weight="normal">6</text>
<text x="603.7" y="136.75" fill="#1eaa46">7</text>
</g>
<g font-family='"Liberation Serif", serif' font-weight="bold" fill="#000">
<text x="351" y="398" font-size="18.4">Z<tspan font-size="13" dy="1">real</tspan><tspan dy="-1">(k Ohm)</tspan></text>
<text transform="translate(16.2,230.6) rotate(-90)" font-size="18.4">Z<tspan font-size="12.7" dy="0">imaginary</tspan><tspan dy="0"> (k Ohm)</tspan></text>
</g>
</svg>
</body></html>
